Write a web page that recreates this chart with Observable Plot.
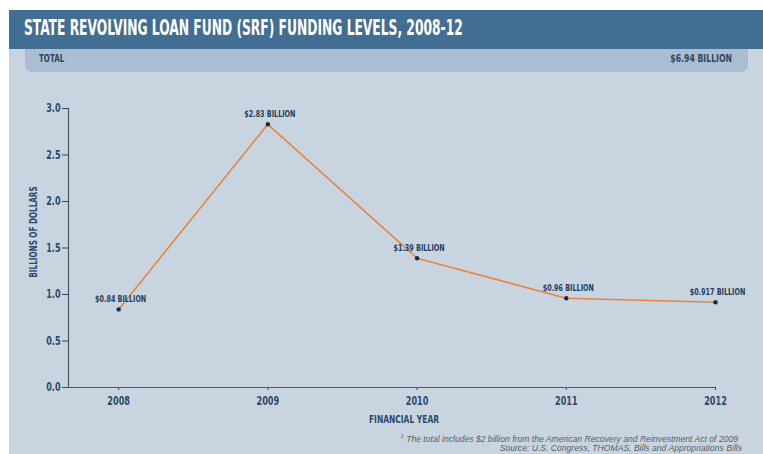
<!DOCTYPE html>
<html>
<head>
<meta charset="utf-8">
<script src="https://cdn.jsdelivr.net/npm/d3@7"></script>
<script src="https://cdn.jsdelivr.net/npm/@observablehq/plot@0.6"></script>
<style>
  html, body { margin: 0; padding: 0; background: #ffffff; width: 763px; height: 454px; overflow: hidden; }
  .cond { font-family: "DejaVu Sans Condensed", "Liberation Sans", sans-serif; font-weight: bold; white-space: nowrap; }
  #panel { position: absolute; left: 9px; top: 10px; width: 754px; height: 444px; background: #c8d5e1; overflow: hidden; }
  #header { position: absolute; left: 0; top: 0; width: 754px; height: 39px; background: #426e94; }
  #title { position: absolute; left: 15px; top: 6px; color: #ffffff; font-size: 21px; transform: scaleX(0.65); transform-origin: left center; }
  #totalbox { position: absolute; left: 16px; top: 39px; width: 723px; height: 23px; background: #a9bed3; border-radius: 0 0 7px 7px; }
  #totalLabel { position: absolute; left: 14px; top: 3px; font-size: 11px; color: #2e4560; transform: scaleX(0.72); transform-origin: left center; }
  #totalValue { position: absolute; right: 16px; top: 3px; font-size: 11px; color: #2e4560; transform: scaleX(0.78); transform-origin: right center; }
  #chart { position: absolute; left: 0; top: 80px; }
  #ylabel { position: absolute; left: 33px; top: 232px; font-size: 11px; color: #2a4868; transform: translate(-50%, -50%) rotate(-90deg) scaleX(0.73); }
  #xlabel { position: absolute; left: 404px; top: 419px; font-size: 11px; color: #2a4868; transform: translate(-50%, -50%) scaleX(0.76); }
  .foot { position: absolute; right: 25px; font-family: "Liberation Sans", Arial, sans-serif; font-style: italic; font-size: 8.6px; line-height: 10px; color: #5a5f66; white-space: nowrap; }
</style>
</head>
<body>
<div id="panel">
  <div id="header"><div id="title" class="cond">STATE REVOLVING LOAN FUND (SRF) FUNDING LEVELS, 2008-12</div></div>
  <div id="totalbox">
    <div id="totalLabel" class="cond">TOTAL</div>
    <div id="totalValue" class="cond">$6.94 BILLION</div>
  </div>
</div>
<div id="chart"></div>
<div id="ylabel" class="cond">BILLIONS OF DOLLARS</div>
<div id="xlabel" class="cond">FINANCIAL YEAR</div>
<div class="foot" style="top:434px;"><sup style="font-size:6px; line-height:0">1</sup> The total includes $2 billion from the American Recovery and Reinvestment Act of 2009</div>
<div class="foot" style="top:443px; right:21px;">Source: U.S. Congress, THOMAS, Bills and Appropriations Bills</div>
<script>
const years = [2008, 2009, 2010, 2011, 2012];
const values = [0.84, 2.83, 1.39, 0.96, 0.917];
const labels = ["$0.84 BILLION", "$2.83 BILLION", "$1.39 BILLION", "$0.96 BILLION", "$0.917 BILLION"];
const yTicks = [0, 0.5, 1.0, 1.5, 2.0, 2.5, 3.0];

const data = years.map((year, i) => ({year, value: values[i], label: labels[i]}));
const xStart = 2007.664;
const axisColor = "#4a5563";
const font = '"DejaVu Sans Condensed", "Liberation Sans", sans-serif';

const chart = Plot.plot({
  width: 763,
  height: 350,
  marginLeft: 68,
  marginRight: 48,
  marginTop: 28,
  marginBottom: 43,
  style: {background: "transparent", fontFamily: font, fontWeight: "bold", fontSize: "12px", color: "#2a4868", overflow: "visible"},
  x: {domain: [xStart, 2012], ticks: years, tickFormat: "d", tickSize: 3, tickPadding: 6, label: null},
  y: {domain: [0, 3], ticks: yTicks, tickFormat: d => d.toFixed(1), tickSize: 6, tickPadding: 2, label: null},
  marks: [
    Plot.ruleY([0], {stroke: axisColor, strokeWidth: 1.2}),
    Plot.ruleX([xStart], {y1: 0, y2: 3, stroke: axisColor, strokeWidth: 1.2}),
    Plot.line(data, {x: "year", y: "value", stroke: "#e8843c", strokeWidth: 1.6}),
    Plot.dot(data, {x: "year", y: "value", r: 2.2, fill: "#1c2b3b"}),
    Plot.text(data, {x: "year", y: "value", text: "label", dy: -10, dx: 2, fontSize: 9.5, fill: "#1f3d5e", fontWeight: "bold"})
  ]
});
document.getElementById("chart").appendChild(chart);
// condense the SVG texts horizontally to mimic the narrow display face
chart.querySelectorAll("text").forEach(t => {
  const len = t.getComputedTextLength();
  if (len > 0) {
    t.setAttribute("textLength", (len * 0.75).toFixed(2));
    t.setAttribute("lengthAdjust", "spacingAndGlyphs");
  }
});
</script>
</body>
</html>
